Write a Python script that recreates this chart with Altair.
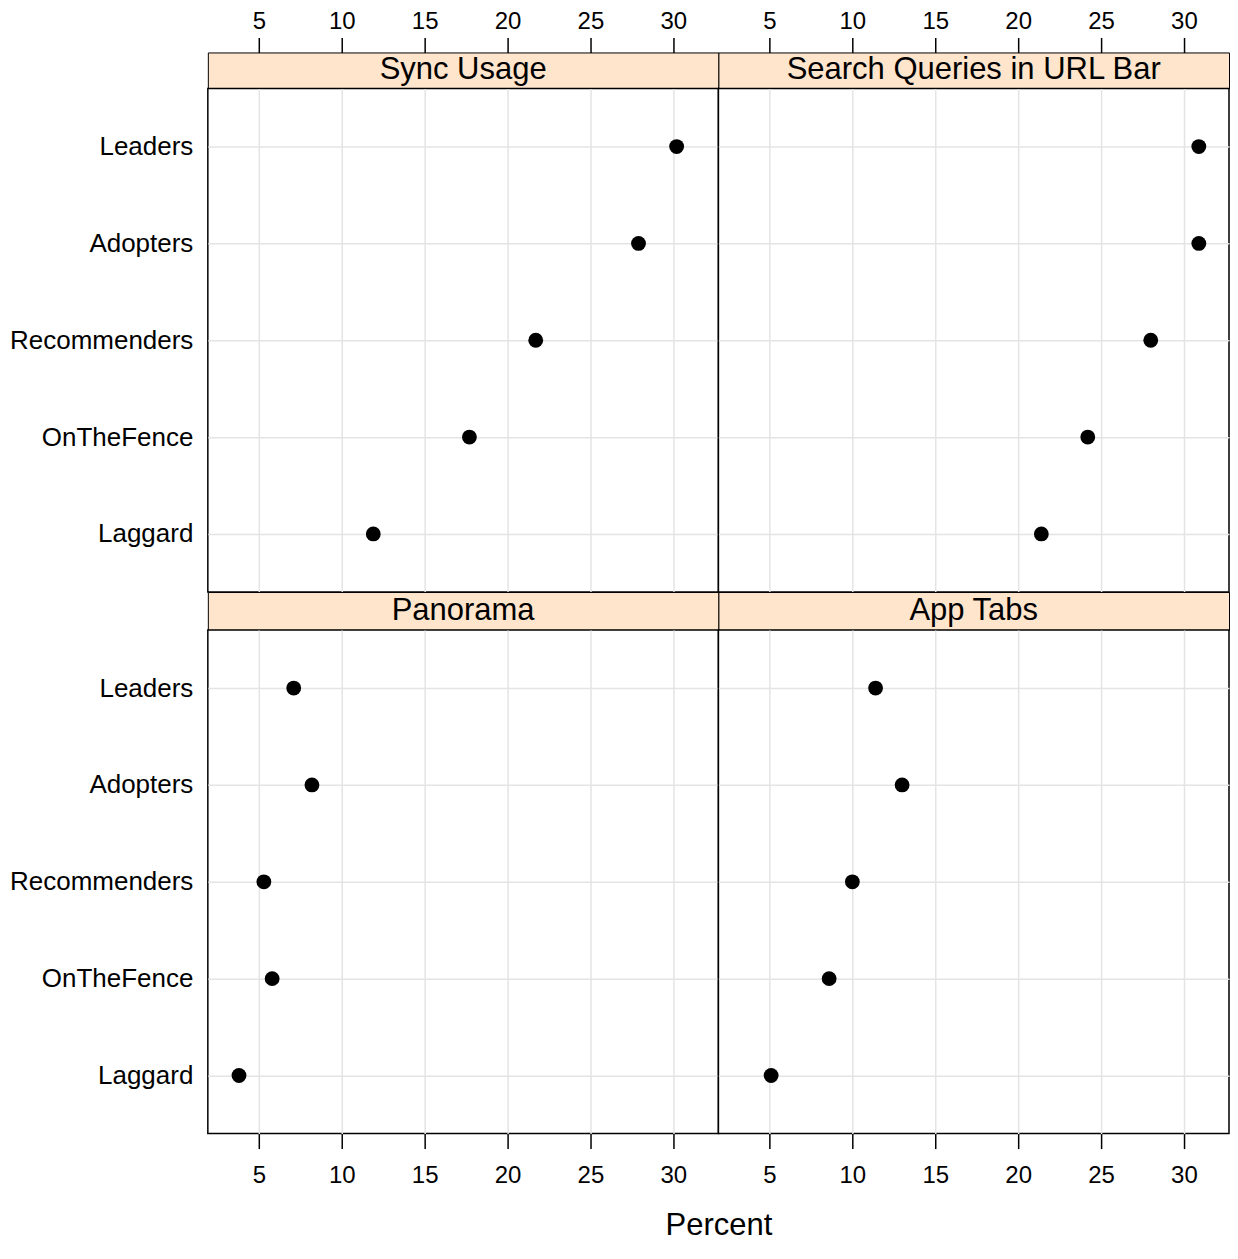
import altair as alt
import pandas as pd

# ---- data ----
groups = ["Leaders", "Adopters", "Recommenders", "OnTheFence", "Laggard"]
panel_titles = ["Sync Usage", "Search Queries in URL Bar", "Panorama", "App Tabs"]
sync_usage = [30.2, 27.9, 21.7, 17.7, 11.9]
search_queries = [30.9, 30.9, 28.0, 24.2, 21.4]
panorama = [7.1, 8.2, 5.3, 5.8, 3.8]
app_tabs = [11.4, 13.0, 10.0, 8.6, 5.1]
tick_values = [5, 10, 15, 20, 25, 30]
x_domain = [1.92, 32.72]
x_title = "Percent"

series = [sync_usage, search_queries, panorama, app_tabs]

# ---- style ----
FONT = "Liberation Sans"
W = 511
PH = 504
SH_TOP = 36
SH_BOT = 38
STRIP_FILL = "#ffe5cc"
GRID = "#e4e4e4"

xscale = alt.Scale(domain=x_domain, nice=False, zero=False)
yscale = alt.Scale(type="point", domain=groups, padding=0.6)


def strip(i, row):
    h = SH_TOP if row == 0 else SH_BOT
    tdf = pd.DataFrame({"panel": [panel_titles[i]]})
    text = alt.Chart(tdf).mark_text(
        font=FONT, fontSize=31, color="black", baseline="middle", align="center"
    ).encode(text="panel:N", x=alt.value(W / 2), y=alt.value(h / 2))
    layers = [text]
    if row == 0:
        df = pd.DataFrame({"Percent": series[i]})
        axis_layer = alt.Chart(df).mark_point(opacity=0).encode(
            x=alt.X(
                "Percent:Q",
                scale=xscale,
                axis=alt.Axis(
                    orient="top", values=tick_values, grid=False, domain=False,
                    ticks=True, tickSize=15, tickWidth=1.5, tickColor="black",
                    labelFontSize=24, labelPadding=4, labelFont=FONT,
                    labelColor="black", title=None,
                ),
            )
        )
        layers = [axis_layer, text]
    return alt.layer(*layers).properties(
        width=W, height=h,
        view=alt.ViewBackground(fill=STRIP_FILL, stroke="black", strokeWidth=1),
    )


def panel(i, row, col):
    df = pd.DataFrame({"group": groups, "Percent": series[i]})
    grid_kw = dict(values=tick_values, grid=True, gridColor=GRID, gridWidth=1.5, domain=False)
    if row == 1:
        title_kw = dict(title=None)
        if col == 0:
            title_kw = dict(
                title=x_title, titleFont=FONT, titleFontSize=31, titleFontWeight="normal",
                titleColor="black", titleX=W, titleY=101, titleAlign="center",
                titleBaseline="alphabetic",
            )
        xax = alt.Axis(
            orient="bottom", ticks=True, tickSize=15, tickWidth=1.5, tickColor="black",
            labels=True, labelFontSize=24, labelPadding=15, labelFont=FONT,
            labelColor="black", **grid_kw, **title_kw,
        )
    else:
        xax = alt.Axis(ticks=False, labels=False, title=None, **grid_kw)
    if col == 0:
        yax = alt.Axis(
            ticks=False, domain=False, grid=True, gridColor=GRID, gridWidth=1.5,
            labelFontSize=26, labelPadding=15, labelFont=FONT, labelColor="black",
            labelLimit=400, title=None,
        )
    else:
        yax = alt.Axis(
            ticks=False, domain=False, labels=False, grid=True, gridColor=GRID,
            gridWidth=1.5, title=None,
        )
    return alt.Chart(df).mark_circle(size=220, color="black", opacity=1).encode(
        x=alt.X("Percent:Q", scale=xscale, axis=xax),
        y=alt.Y("group:N", scale=yscale, sort=groups, axis=yax),
    ).properties(
        width=W, height=PH,
        view=alt.ViewBackground(fill="white", stroke="black", strokeWidth=1.5),
    )


cells = [
    strip(0, 0), strip(1, 0),
    panel(0, 0, 0), panel(1, 0, 1),
    strip(2, 1), strip(3, 1),
    panel(2, 1, 0), panel(3, 1, 1),
]

chart = alt.concat(
    *cells, columns=2, spacing=0, align="each", bounds="flush"
).properties(
    padding={"left": 0, "top": 0, "right": 0, "bottom": 0},
    background="white",
)

chart.save("out.html", embed_options={"renderer": "svg", "actions": False})
